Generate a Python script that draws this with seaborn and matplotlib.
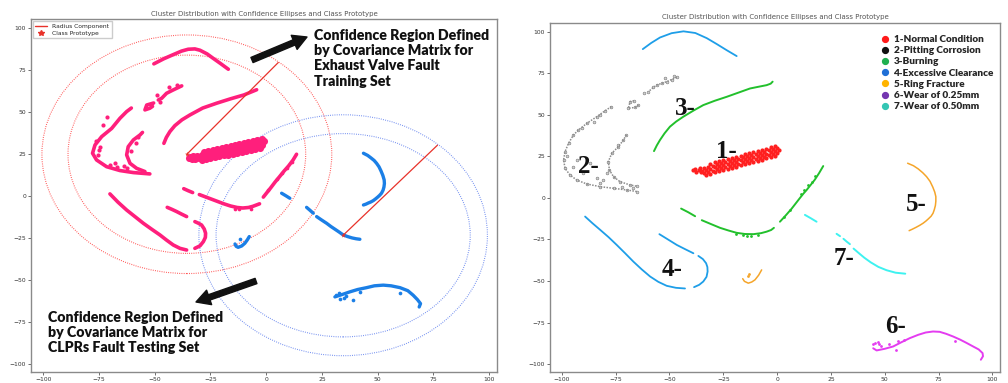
import matplotlib
matplotlib.use("Agg")
import matplotlib.pyplot as plt
import pandas as pd
import seaborn as sns
from matplotlib.patches import Ellipse
from matplotlib.lines import Line2D

sns.set_theme(style="white")
plt.rcParams["font.family"] = ["DejaVu Sans"]

TITLE = "Cluster Distribution with Confidence Ellipses and Class Prototype"
TICKS = [-100, -75, -50, -25, 0, 25, 50, 75, 100]

# ---------------------------------------------------------------- left panel data
# Training set (exhaust valve faults): curve segments
train_top_arc = [[(-50.4, 78.8), (-46, 81.8), (-41.7, 84.3), (-38, 86.4), (-35, 87.5), (-32, 87.7),
                  (-29.7, 86.9), (-26.5, 84.7), (-23.8, 82.1), (-20.5, 79), (-17, 75.6)]]
train_long_arc = [[(-45.9, 31.5), (-44.8, 35), (-43.2, 38.5), (-41, 42), (-37.8, 45.5), (-34.2, 48.4),
                   (-28.5, 52.5), (-22.2, 55.4), (-16, 58), (-10, 60.3), (-4.3, 63.4)]]
train_chevron = [
    [(-37.9, 65.7), (-39.8, 64.5), (-41.7, 63.3), (-44.7, 61.3), (-46.9, 58.3), (-48.4, 57.3)],
    [(-50.5, 55.5), (-53.6, 54.3), (-54.4, 51.4), (-52.2, 52.4), (-51, 53.5)],
    [(-60.5, 52.5), (-62.6, 50.4), (-65.6, 46.4), (-69.3, 40.4), (-73.8, 35.5), (-76.8, 30.5),
     (-77.9, 25.6), (-76.1, 21.6), (-71.6, 17.6), (-65.6, 15.3), (-59.6, 14.1), (-52.2, 13.3)],
    [(-55.5, 38), (-56.6, 36.5), (-59.6, 33.5), (-61.9, 29.5), (-62.6, 24.6), (-61.1, 19.6),
     (-58.1, 16.6), (-54.4, 14.7)],
]
train_chevron_dots = [(-74.6, 29.5), (-70.1, 18.6), (-67.1, 17.6), (-62.6, 16.6), (-75.4, 24.6),
                      (-71.6, 47.4), (-73.1, 42.4), (-76.5, 33), (-68, 19.5), (-64, 18), (-60.5, 27),
                      (-58.5, 31.5), (-57.5, 35), (-49, 60), (-43.5, 64.8), (-40, 66.5), (-47.5, 56),
                      (-75, 27.5)]
train_low_arc = [
    [(-37, 4.5), (-35, 3.3), (-33, 2.2)],
    [(-30, 1), (-26, -1), (-22, -3), (-19, -4.5), (-16, -5.8), (-13, -6.7), (-10.5, -7), (-8, -6.7),
     (-6, -6), (-3, -4.5)],
    [(-1.3, -0.5), (0.5, 2.5), (2, 5), (4, 8.5), (6, 11.7), (8, 15), (10, 18), (12, 21.5), (13.6, 25)],
]
train_low_arc_dots = [(-12, -7.8), (-14, -7.5), (-7, -7.4), (7, 14), (9.5, 17), (11.5, 20.3),
                      (4.8, 10.5), (1, 4)]
train_hook = [
    [(-70.1, 1.4), (-66.5, -3.5), (-62.6, -8.2), (-58.8, -12.2), (-55.1, -16.1), (-51.4, -19.6),
     (-47.7, -23), (-44.7, -26.1), (-41.7, -29), (-38.7, -31), (-35.7, -32)],
    [(-32, -31), (-29.7, -29.5), (-28.2, -27), (-27.3, -24.5), (-27.2, -22), (-27.8, -19.5),
     (-29, -17.1), (-30.5, -16), (-32, -15.1)],
    [(-35.7, -12.1), (-38, -10.6), (-40.2, -9.1), (-42.3, -7.8), (-44.4, -6.6)],
]
# dense training cluster (rows of samples)
train_blob = [
    (-28, 26.5), (-26, 27.1), (-24, 27.7), (-22, 28.2), (-20, 28.8), (-18, 29.4), (-16, 29.9),
    (-14, 30.5), (-12, 31.1), (-10, 31.6), (-8, 32.2), (-6, 32.8), (-4, 33.3), (-2, 33.9),
    (-31, 24.1), (-29, 24.65), (-27, 25.2), (-25, 25.8), (-23, 26.3), (-21, 26.9), (-19, 27.5),
    (-17, 28.0), (-15, 28.6), (-13, 29.2), (-11, 29.7), (-9, 30.3), (-7, 30.9), (-5, 31.4),
    (-3, 32.0), (-1, 32.6),
    (-32, 22.2), (-30, 22.8), (-28, 23.3), (-26, 23.9), (-24, 24.5), (-22, 25.0), (-20, 25.6),
    (-18, 26.2), (-16, 26.7), (-14, 27.3), (-12, 27.9), (-10, 28.4), (-8, 29.0), (-6, 29.6),
    (-4, 30.1), (-2, 30.7),
    (-29, 21.45), (-27, 22.0), (-25, 22.6), (-23, 23.1), (-21, 23.7), (-19, 24.3), (-17, 24.8),
    (-15, 25.4), (-13, 26.0), (-11, 26.5), (-9, 27.1), (-7, 27.7), (-5, 28.2), (-3, 28.8),
    (-34, 23.2), (-33.5, 22.2), (-33, 24), (-34.5, 22.6),
]

# Testing set (CLPR faults)
test_arc = [[(43.6, 25.6), (45.5, 24.3), (47, 22.8), (48.4, 21.3), (49.5, 19.6), (50.6, 17.5),
             (51.5, 15), (52.3, 12.4), (52.9, 9.7), (53, 7.6), (52.8, 5.5), (52.4, 3.6), (51.7, 1.8),
             (50.9, 0.6), (50, -0.5), (49, -1.6), (48, -2.6), (46.9, -3.4), (45.8, -4), (44.7, -4.7),
             (43.6, -5.2)]]
test_diag = [
    [(6.9, 1.8), (8.8, 0.3), (10.6, -1.2)],
    [(18.1, -6.6), (19.5, -8.2), (21.1, -10.1)],
    [(22.6, -12.1), (24.8, -14.1), (27.1, -16.1), (29, -18), (30.8, -19.6), (32.7, -21.3),
     (34.5, -23), (36.5, -24), (38.5, -24.8), (40.3, -25.3), (42, -25.6)],
]
test_hook = [[(-14, -28.4), (-13.5, -29.8), (-12.6, -30.4), (-11, -29.6), (-9.6, -28), (-8.5, -26),
              (-7.6, -24)]]
test_hook_dots = [(-11.8, -25.6)]
test_wave = [[(30.8, -59.9), (34, -58.5), (37.5, -56.9), (41, -55.5), (45, -54.4), (48.5, -53.3),
              (52.5, -52.9), (56, -53.3), (60, -54.4), (63.5, -56.2), (65.9, -58.9), (67.8, -61.5),
              (69.2, -63.9), (68.6, -65.9)]]
test_wave_dots = [(32.7, -57.5), (36, -59.5), (39, -61.5), (60, -57.5), (33, -61), (31.5, -58.5),
                  (42, -57), (35, -60.5)]

# class prototypes, radius end points and confidence ellipse semi-axes (inner, outer)
proto_x = [-35.6, 34.5]
proto_y = [25.0, -23.2]
radius_end_x = [5.4, 76.8]
radius_end_y = [79.6, 30.4]
ellipse_inner = [(53.3, 59.0), (57.0, 60.5)]
ellipse_outer = [(65.0, 71.0), (64.7, 71.7)]

# ---------------------------------------------------------------- right panel data
normal_pts = [
    (-31, 20.65), (-29, 21.35), (-27, 22.05), (-25, 22.75), (-23, 23.45), (-21, 24.15), (-19, 24.85),
    (-17, 25.55), (-15, 26.25), (-13, 26.95), (-11, 27.65), (-9, 28.35), (-7, 29.05), (-5, 29.75),
    (-3, 30.45), (-1, 31.15),
    (-34, 18.1), (-32, 18.8), (-30, 19.5), (-28, 20.2), (-26, 20.9), (-24, 21.6), (-22, 22.3),
    (-20, 23.0), (-18, 23.7), (-16, 24.4), (-14, 25.1), (-12, 25.8), (-10, 26.5), (-8, 27.2),
    (-6, 27.9), (-4, 28.6), (-2, 29.3), (0, 30.0),
    (-35, 16.25), (-33, 16.95), (-31, 17.65), (-29, 18.35), (-27, 19.05), (-25, 19.75), (-23, 20.45),
    (-21, 21.15), (-19, 21.85), (-17, 22.55), (-15, 23.25), (-13, 23.95), (-11, 24.65), (-9, 25.35),
    (-7, 26.05), (-5, 26.75), (-3, 27.45), (-1, 28.15), (1, 28.85),
    (-34, 15.1), (-32, 15.8), (-30, 16.5), (-28, 17.2), (-26, 17.9), (-24, 18.6), (-22, 19.3),
    (-20, 20.0), (-18, 20.7), (-16, 21.4), (-14, 22.1), (-12, 22.8), (-10, 23.5), (-8, 24.2),
    (-6, 24.9), (-4, 25.6), (-2, 26.3), (0, 27.0),
    (-33, 13.95), (-31, 14.65), (-29, 15.35), (-27, 16.05), (-25, 16.75), (-23, 17.45), (-21, 18.15),
    (-19, 18.85), (-17, 19.55), (-15, 20.25), (-13, 20.95), (-11, 21.65), (-9, 22.35), (-7, 23.05),
    (-5, 23.75), (-3, 24.45), (-1, 25.15),
    (-39, 16.8), (-38, 17.2), (-37.5, 15.8), (-36.5, 16.6), (-35.5, 15.5), (-36, 17.8),
]
pitting_outline = [
    [(-46.6, 72.6), (-49, 71.3), (-51.3, 70), (-53.6, 69), (-55.9, 68), (-57.5, 66.5), (-59.8, 64)],
    [(-64.4, 56), (-66, 54.5), (-69.1, 54), (-68.3, 58), (-66.5, 58.5)],
    [(-77, 55), (-79.9, 52.5), (-83.8, 48.9), (-88.4, 44.9), (-92.3, 40.9), (-94.6, 37.9),
     (-96.9, 32.9), (-98.5, 27.9), (-99.2, 22.9), (-98.5, 17.8), (-96.2, 13.8), (-93.1, 10.8),
     (-88.4, 8.4), (-82.2, 6.8), (-76, 5.8), (-69.9, 4.8), (-64.9, 3.8)],
    [(-70, 38), (-71.4, 34.9), (-73.7, 30.9), (-76.8, 26.9), (-78.4, 21.9), (-77.9, 16.8),
     (-76, 12.8), (-73, 9.8), (-68.3, 7.8), (-65, 7)],
]
pitting_dots = [(-93, 22.9), (-94.6, 18.9), (-90, 14.8), (-83.8, 11.8), (-80.7, 10.8), (-86.9, 20.9),
                (-82.2, 8.8), (-79.1, 14.8), (-82.2, 49.9), (-90.7, 41.9), (-85, 46), (-72, 6.5),
                (-67, 6), (-62, 63), (-52, 72), (-48, 73.5), (-97.5, 25), (-74, 32)]
burning = [
    [(-57.2, 28.2), (-55.9, 31.6), (-54.4, 34.9), (-52.3, 38.9), (-49.8, 42.9), (-46.9, 46),
     (-43.6, 48.9), (-39, 52.5), (-34.3, 55.9), (-29, 58.5), (-23.4, 60.9), (-18, 63.4),
     (-12.6, 65.9), (-8.8, 66.9), (-4.9, 67.9), (-3, 68.8), (-2.1, 70)],
    [(-44.6, -6.4), (-41.3, -8.6), (-38.1, -11)],
    [(-35, -13.4), (-30.6, -15.8), (-26.5, -18), (-22.6, -19.6), (-18.8, -21), (-15, -21.7),
     (-11, -21.8), (-7.5, -21.2), (-4.9, -20.3), (-2.8, -19.3), (-1.5, -18)],
    [(1.3, -14.3), (4, -10.5), (6.7, -6.5), (8.8, -3), (10.6, 0), (12.2, 2.6), (13.7, 4.8),
     (15.6, 7.9), (17.5, 11), (19.5, 15), (21.4, 19.2)],
]
burning_dots = [(-14, -22.8), (-12, -23), (-9, -22.5), (-16, -22.5), (12.5, 4.5), (14.5, 7.5),
                (16, 9.5), (17.8, 13.5), (6, -7.5), (3, -11.5), (-19, -22), (11, 2.5)]
clearance = [
    [(-62.4, 89.6), (-58.5, 93.3), (-54.4, 96.6), (-49, 99.2), (-43.5, 100.3), (-38, 99.3),
     (-32.7, 96.2), (-28, 92.6), (-23.5, 89), (-18.8, 85.4)],
    [(-89.2, -11.2), (-85.8, -15.2), (-82.2, -19.2), (-78.3, -23.6), (-74.5, -28.3), (-70.6, -33.3),
     (-66.8, -38.3), (-62.9, -43), (-59, -47.3), (-55.2, -50.5), (-51.3, -52.9), (-47, -54.1),
     (-42.8, -54.5)],
    [(-38.6, -53.7), (-36.2, -52.3), (-34.3, -50.3), (-32.8, -47.5), (-32.3, -44.3), (-32.4, -41.6),
     (-33, -39.3), (-34.5, -36.8), (-36.6, -34.9)],
    [(-38.9, -33.3), (-42.8, -30.8), (-46.6, -28.3), (-50.7, -25), (-54.7, -21.8)],
]
ring_fracture = [
    [(60.6, 20.9), (63.3, 19.4), (65.5, 17.5), (67.6, 15.2), (69.4, 12.8), (71, 10), (72.3, 6.5),
     (73.2, 3.5), (73.7, 0.8), (73.7, -2), (73.5, -4.5), (73, -7), (72.4, -9.2), (71.5, -11),
     (70.3, -12.5), (69.1, -13.9), (67.8, -15.2), (66.2, -16.5), (64.5, -17.7), (62.8, -18.8),
     (61.3, -19.7)],
    [(-16, -48.6), (-15.2, -50.2), (-13.4, -51.3), (-11.8, -50.6), (-10.3, -49.3), (-8.6, -46.5),
     (-7.2, -43.3)],
]
ring_dots = [(-12.9, -45.9), (-13.6, -46.8)]
wear_025 = [[(44.6, -90.5), (46.2, -91.8), (50, -90.8), (53.9, -89.4), (57.8, -86.8), (61.6, -84.4),
             (65.5, -82.4), (69, -81), (72.4, -80.4), (75.5, -80.6), (78.5, -81.8), (81.7, -83.4),
             (85, -85.3), (88, -87.3), (91, -89.4), (93.6, -91.2), (95.4, -93.4), (95.6, -95.3),
             (94.6, -97.4)]]
wear_025_dots = [(44.3, -88), (45.5, -87.2), (47, -86.6), (48, -89), (55.1, -91.4), (55.9, -86),
                 (52, -88), (82.5, -86.4), (59, -85.5), (47.5, -88.2)]
wear_050 = [
    [(12.9, -10.2), (15.6, -12.2), (18.3, -14.3)],
    [(27.6, -21.6), (29.2, -23)],
    [(30.8, -24.6), (32.3, -26.3), (33.8, -27.8)],
    [(35.5, -30.5), (38, -33.3), (40.5, -36), (43.5, -38.8), (47, -41.5), (50.8, -43.5),
     (55, -45), (59.5, -45.6)],
]

class_names = ["1-Normal Condition", "2-Pitting Corrosion", "3-Burning", "4-Excessive Clearance",
               "5-Ring Fracture", "6-Wear of 0.25mm", "7-Wear of 0.50mm"]
legend_colors = ["#ff1a1a", "#111111", "#20b050", "#1f6fd6", "#ffb400", "#7436b0", "#34c6b4"]
tag_text = ["1-", "2-", "3-", "4-", "5-", "6-", "7-"]
tag_x = [-23.4, -87.7, -42.8, -49.0, 64.7, 55.1, 31.1]
tag_y = [27.8, 18.8, 53.9, -42.9, -4.2, -77.4, -36.3]

PINK = "#ff1f7c"
TEST_BLUE = "#1b7fe6"


def segments_frame(segments):
    rows = []
    for i, seg in enumerate(segments):
        for x, y in seg:
            rows.append({"seg": i, "x": x, "y": y})
    return pd.DataFrame(rows)


def points_frame(points):
    return pd.DataFrame(points, columns=["x", "y"])


def draw_curves(ax, segments, color, lw):
    sns.lineplot(data=segments_frame(segments), x="x", y="y", units="seg", estimator=None,
                 sort=False, color=color, linewidth=lw, solid_capstyle="round", ax=ax, legend=False)


def draw_dots(ax, points, color, s, **kw):
    sns.scatterplot(data=points_frame(points), x="x", y="y", color=color, s=s, linewidth=0,
                    ax=ax, legend=False, **kw)


def style_axes(ax, title):
    ax.set_xlim(-105.5, 103.5)
    ax.set_ylim(-104.6, 105.5)
    ax.set_xticks(TICKS)
    ax.set_yticks(TICKS)
    ax.set_xlabel("")
    ax.set_ylabel("")
    ax.tick_params(labelsize=4.3, colors="#333333", length=2, width=0.5, pad=1.5,
                   left=True, bottom=True)
    for sp in ax.spines.values():
        sp.set_color("#8a8a8a")
        sp.set_linewidth(1.0)
    ax.set_title(title, fontsize=5.0, color="#555555", pad=2.5)


fig = plt.figure(figsize=(10.08, 3.83), dpi=100)
fig.patch.set_facecolor("white")

# ----------------------------------------------------------------- left panel
axL = fig.add_axes([31 / 1008, 11 / 383, 466 / 1008, 353 / 383])

ell_colors = ["#ff5050", "#6f8cf0"]
for k in range(2):
    for (rx, ry) in (ellipse_inner[k], ellipse_outer[k]):
        axL.add_patch(Ellipse((proto_x[k], proto_y[k]), 2 * rx, 2 * ry, fill=False,
                              edgecolor=ell_colors[k], linewidth=0.8, linestyle=(0, (0.8, 1.2)),
                              zorder=1))

for segs in (train_top_arc, train_long_arc, train_chevron, train_low_arc, train_hook):
    draw_curves(axL, segs, PINK, 2.6)
draw_dots(axL, train_chevron_dots, PINK, 9)
draw_dots(axL, train_low_arc_dots, PINK, 7)
draw_dots(axL, train_blob, PINK, 26)

for segs in (test_arc, test_diag, test_hook, test_wave):
    draw_curves(axL, segs, TEST_BLUE, 2.4)
draw_dots(axL, test_hook_dots, TEST_BLUE, 7)
draw_dots(axL, test_wave_dots, TEST_BLUE, 7)

radius_df = pd.DataFrame({
    "cls": [0, 0, 1, 1],
    "x": [proto_x[0], radius_end_x[0], proto_x[1], radius_end_x[1]],
    "y": [proto_y[0], radius_end_y[0], proto_y[1], radius_end_y[1]],
})
sns.lineplot(data=radius_df, x="x", y="y", units="cls", estimator=None, sort=False,
             color="#e8322a", linewidth=0.9, ax=axL, legend=False)
sns.scatterplot(x=proto_x, y=proto_y, marker="*", color="#e8322a", s=14, linewidth=0,
                ax=axL, legend=False, zorder=5)

style_axes(axL, TITLE)
axL.legend(handles=[Line2D([], [], color="#e8322a", lw=1.0),
                    Line2D([], [], color="#e8322a", marker="*", ls="", markersize=4)],
           labels=["Radius Component", "Class Prototype"], loc="upper left", fontsize=4.3,
           frameon=True, framealpha=1, edgecolor="#cccccc", fancybox=False,
           borderaxespad=0.35, handlelength=2.0, labelspacing=0.3)

# ----------------------------------------------------------------- right panel
axR = fig.add_axes([550 / 1008, 11.3 / 383, 450 / 1008, 349 / 383])

draw_dots(axR, normal_pts, "#ff2020", 9)
sns.lineplot(data=segments_frame(pitting_outline), x="x", y="y", units="seg", estimator=None,
             sort=False, color="#8c8c8c", linewidth=1.1, linestyle=(0, (1.0, 0.9)), ax=axR,
             legend=False)
sns.scatterplot(data=points_frame([p for seg in pitting_outline for p in seg] + pitting_dots),
                x="x", y="y", s=4, facecolor="#d0d0d0", edgecolor="#777777", linewidth=0.4,
                ax=axR, legend=False)
draw_curves(axR, burning, "#22c02c", 1.4)
draw_dots(axR, burning_dots, "#22c02c", 4)
draw_curves(axR, clearance, "#1e9ee8", 1.3)
draw_curves(axR, ring_fracture, "#f5a52a", 1.1)
draw_dots(axR, ring_dots, "#f5a52a", 4)
draw_curves(axR, wear_025, "#e43cf0", 1.4)
draw_dots(axR, wear_025_dots, "#e43cf0", 4)
draw_curves(axR, wear_050, "#3ef2f0", 1.4)

for t, x, y in zip(tag_text, tag_x, tag_y):
    axR.text(x, y, t, ha="center", va="center", fontsize=18, fontweight="bold",
             family="Liberation Serif", color="#111111")

style_axes(axR, TITLE)

handles = [Line2D([], [], marker="o", ls="", color=c, markersize=4.2) for c in legend_colors]
fig.legend(handles=handles, labels=class_names, loc="upper left",
           bbox_to_anchor=(876 / 1008, 1 - 30 / 383), bbox_transform=fig.transFigure,
           frameon=False, borderpad=0, handlelength=0.8, handletextpad=0.45, labelspacing=0.22,
           prop={"family": "Lato", "weight": "heavy", "size": 7.2})

# ----------------------------------------------------------------- callouts
arrow_kw = dict(arrowstyle="simple,head_length=0.5,head_width=0.55,tail_width=0.2",
                color="#111111", shrinkA=0, shrinkB=0, mutation_scale=20)
axL.annotate("", xy=(307, 346), xytext=(252, 323), xycoords="figure pixels",
             textcoords="figure pixels", arrowprops=arrow_kw, annotation_clip=False)
axL.annotate("", xy=(196, 81), xytext=(256, 102), xycoords="figure pixels",
             textcoords="figure pixels", arrowprops=arrow_kw, annotation_clip=False)

callout_font = dict(ha="left", va="top", fontsize=10.2, fontweight="heavy", family="Lato",
                    color="#111111", linespacing=1.2)
fig.text(314 / 1008, 1 - 29 / 383,
         "Confidence Region Defined\nby Covariance Matrix for\nExhaust Valve Fault\nTraining Set",
         **callout_font)
fig.text(48 / 1008, 1 - 311 / 383,
         "Confidence Region Defined\nby Covariance Matrix for\nCLPRs Fault Testing Set",
         **callout_font)

fig.savefig("out.png", dpi=100, facecolor="white")
